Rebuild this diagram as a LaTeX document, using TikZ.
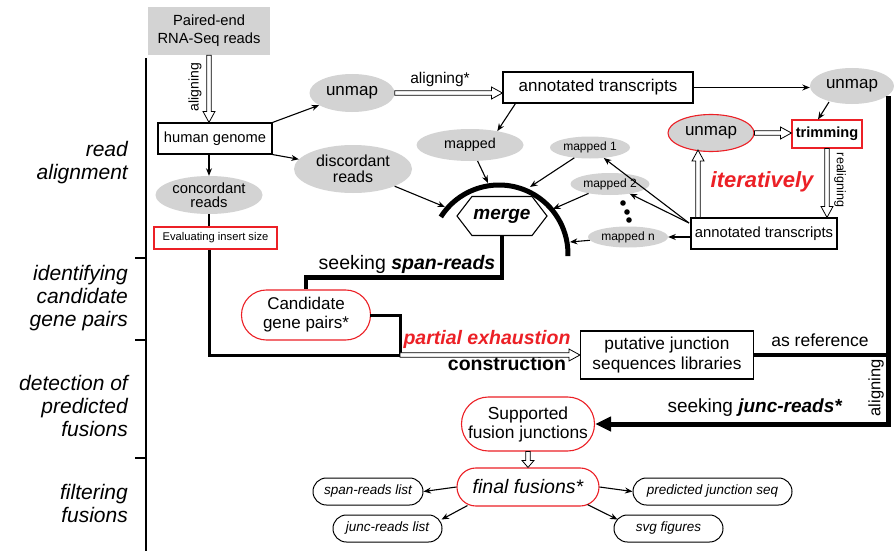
\documentclass[tikz,border=0pt]{standalone}
\usepackage{fontspec}
\setmainfont{Liberation Sans}
\usetikzlibrary{shapes.geometric,shapes.symbols,arrows.meta,calc}
\definecolor{gfill}{RGB}{211,211,211}
\definecolor{myred}{RGB}{236,32,38}
\newcommand{\fs}[2]{\fontsize{#1}{#2}\selectfont}
\newcommand{\hollowarrow}[3][11pt]{%
  \coordinate (ha) at (#2);
  \coordinate (hb) at (#3);
  \coordinate (hh) at ($(hb)!#1!(ha)$);
  \filldraw[hollowline] ($(ha)!2.3pt!90:(hb)$) -- ($(hh)!2.3pt!90:(hb)$) -- ($(hh)!6pt!90:(hb)$) -- (hb)
    -- ($(hh)!6pt!-90:(hb)$) -- ($(hh)!2.3pt!-90:(hb)$) -- ($(ha)!2.3pt!-90:(hb)$) -- cycle;
}
\tikzset{
  base/.style={inner sep=0pt, align=center},
  gell/.style={base, ellipse, fill=gfill},
  bbox/.style={base, rectangle, draw, line width=1.1pt},
  rbox/.style={base, rectangle, draw=myred, line width=1.1pt},
  rstad/.style={base, rectangle, draw=myred, line width=1.1pt},
  ostad/.style={base, rectangle, draw, line width=1pt, rounded corners=13.4pt, font=\itshape\fs{13.5}{16}, minimum height=27pt},
  arr/.style={line width=1.1pt, -{Stealth[length=7.5pt,width=6pt]}},
  hollowline/.style={fill=white, draw=black, line width=0.8pt, line join=miter},
  phase/.style={base, anchor=east, align=right, font=\itshape\fs{21}{23}},
}
\begin{document}
\begin{tikzpicture}[x=1pt,y=-1pt]
\useasboundingbox (0,0) rectangle (894,551);
\fill[white] (0,0) rectangle (894,551);

% phase labels and timeline
\draw[line width=2pt] (146,58) -- (146,551);
\foreach \yy in {258,340,458} \draw[line width=2pt] (135,\yy) -- (146,\yy);
\node[phase] (ph1) at (128,163) {read\\alignment};
\node[phase] (ph2) at (128,298) {identifying\\candidate\\gene pairs};
\node[phase] (ph3) at (128,406) {detection of\\predicted\\fusions};
\node[phase] (ph4) at (128,503) {filtering\\fusions};

% nodes
\node[base, fill=gfill, minimum width=122pt, minimum height=48pt, font=\fs{14.7}{18}] (paired) at (209,31) {Paired-end\\RNA-Seq reads};
\node[bbox, minimum width=114pt, minimum height=31pt, font=\fs{14.7}{17}] (hg) at (215,138.5) {human genome};
\node[gell, minimum width=107pt, minimum height=38pt, font=\fs{14.8}{14.5}] (conc) at (209,195) {concordant\\reads};
\node[rbox, minimum width=123pt, minimum height=22pt, font=\fs{11.2}{13}] (eval) at (215.5,238) {Evaluating insert size};
\node[gell, minimum width=85pt, minimum height=38pt, font=\fs{17}{20}] (unmapA) at (352,93) {unmap};
\node[gell, minimum width=118pt, minimum height=48pt, font=\fs{16}{16}] (disc) at (353,169) {discordant\\reads};
\node[bbox, minimum width=190pt, minimum height=31pt, font=\fs{17}{20}] (annotA) at (598,87.5) {annotated transcripts};
\node[gell, minimum width=84pt, minimum height=36pt, font=\fs{17}{20}] (unmapB) at (852,86) {unmap};
\node[gell, minimum width=107pt, minimum height=32pt, font=\fs{14.3}{16}] (mapped) at (470,145) {mapped};
\node[gell, minimum width=80pt, minimum height=22pt, font=\fs{12}{14}] (m1) at (590,147.5) {mapped 1};
\node[gell, minimum width=79pt, minimum height=22pt, font=\fs{12}{14}] (m2) at (610,184) {mapped 2};
\node[gell, minimum width=80pt, minimum height=21pt, font=\fs{12}{14}] (mn) at (628,237) {mapped n};
\node[bbox, minimum width=146pt, minimum height=31pt, font=\fs{14.8}{17}] (annotB) at (764,233.5) {annotated transcripts};
\node[gell, draw=myred, line width=1.1pt, minimum width=86pt, minimum height=37pt, font=\fs{17}{20}] (unmapC) at (711,133) {unmap};
\node[rbox, minimum width=70pt, minimum height=28pt, font=\bfseries\fs{14.6}{17}] (trim) at (827,134) {trimming};
\node[signal, signal to=west and east, signal pointer angle=105, draw, fill=white, line width=1.1pt, minimum width=90pt, minimum height=39pt, inner sep=0pt, font=\bfseries\itshape\fs{19}{22}] (merge) at (502,216) {merge};
\node[base, text=myred, font=\bfseries\itshape\fs{22}{26}] (iter) at (762,182) {iteratively};

\node[rstad, rounded corners=24.9pt, minimum width=129pt, minimum height=50pt, font=\fs{17}{19}] (cand) at (306,315) {Candidate\\gene pairs*};
\node[bbox, minimum width=173pt, minimum height=48pt, font=\fs{17.3}{20}] (put) at (667,355) {putative junction\\sequences libraries};
\node[rstad, rounded corners=26.9pt, minimum width=133pt, minimum height=54pt, font=\fs{17.4}{19}] (sup) at (528,424) {Supported\\fusion junctions};
\node[rstad, rounded corners=18.9pt, minimum width=142pt, minimum height=38pt, font=\itshape\fs{19.5}{22}] (final) at (528,487) {final fusions*};
\node[ostad, minimum width=110pt] (spanl) at (368,491.5) {span-reads list};
\node[ostad, minimum width=109pt] (juncl) at (387.5,528.5) {junc-reads list};
\node[ostad, minimum width=159pt] (pred) at (712.5,491.5) {predicted junction seq};
\node[ostad, minimum width=109pt] (svg) at (668.5,528.5) {svg figures};

% labels
\node[base, rotate=90, font=\fs{14}{16}] (lalign) at (195,87) {aligning};
\node[base, font=\fs{15.5}{18}] (lalign2) at (440,79) {aligning*};
\node[base, rotate=-90, font=\fs{12.5}{15}] (lreal) at (840,180) {realigning};
\node[base, font=\fs{19.5}{22}] (lspan) at (407,264) {seeking \textbf{\textit{span-reads}}};
\node[base, text=myred, font=\bfseries\itshape\fs{19.5}{22}] (lpart) at (487,339) {partial exhaustion};
\node[base, font=\bfseries\fs{19.5}{22}] (lcons) at (507,364) {construction};
\node[base, font=\fs{17.5}{20}] (lref) at (820,340) {as reference};
\node[base, rotate=90, font=\fs{16.5}{20}] (lalign3) at (876,388) {aligning};
\node[base, font=\fs{19}{22}] (ljunc) at (755,408) {seeking \textbf{\textit{junc-reads*}}};

% arc around merge
\coordinate (arcc) at (499,254);
\draw[line width=5pt] (arcc) ++(-147.5:69) arc[start angle=-147.5, end angle=1.7, radius=69];
\coordinate (aA) at (445,207);
\coordinate (aB) at (488,183);
\coordinate (aC) at (530,187);
\coordinate (aD) at (553,209);
\coordinate (aE) at (570,242);
\foreach \p in {(623,203),(627,212),(629,220)} \fill \p circle[radius=2.8pt];

% thin arrows
\draw[arr] (hg.north east) -- (unmapA);
\draw[arr] (hg.south east) -- (disc);
\draw[arr] (conc.north |- hg.south) -- (conc.north);
\draw[line width=1.1pt] (conc.south) -- (conc.south |- eval.north);
\draw[arr] (disc) -- (aA);
\draw[arr] (annotA.east) -- (annotA.east -| unmapB.west);
\draw[arr] ($(annotA.south west)+(13,0)$) -- (mapped.27);
\draw[arr] (mapped) -- (aB);
\draw[arr] (m1) -- (aC);
\draw[arr] (m2) -- (aD);
\draw[arr] (mn) -- (aE);
\coordinate (fan) at (689,223);
\draw[arr] (fan) -- (m1);
\draw[arr] (fan) -- (m2);
\draw[arr] (mn.east -| annotB.west) -- (mn.east);
\coordinate (u2s) at (829,102);
\draw[arr] (u2s) -- ($(trim.north)+(-9,0)$);
\draw[arr] (final.west) -- (spanl.east);
\draw[arr] (final.east) -- (pred.west);
\draw[arr] ($(final.south west)+(11,-1)$) -- ($(juncl.north east)+(-1,5)$);
\draw[arr] ($(final.south east)+(-12,-2)$) -- ($(svg.north west)+(4,5)$);

% thick paths
\coordinate (rtop) at (888,96);
\coordinate (J) at (400,355);
\draw[line width=3pt] (conc.south |- eval.south) |- (J);
\draw[line width=3pt, line cap=rect] (cand.east) -| (J);
\draw[line width=4.5pt] (merge.south) |- ($(cand.north)+(0,-12)$) -- (cand.north);
\draw[line width=4.5pt] (put.east) -- (put.east -| rtop);
\draw[line width=5pt, -{Triangle[length=16pt,width=14pt]}] (rtop) |- (sup.east);

% hollow arrows
\hollowarrow{paired.south}{paired.south |- hg.north}
\hollowarrow{unmapA.east}{unmapA.east -| annotA.west}
\coordinate (u3x) at (698,150);
\hollowarrow{u3x |- annotB.north}{u3x}
\hollowarrow{unmapC.east}{unmapC.east -| trim.west}
\hollowarrow{trim.south}{trim.south |- annotB.north}
\hollowarrow{J}{J -| put.west}
\hollowarrow[7pt]{sup.south}{final.north}
\end{tikzpicture}
\end{document}
